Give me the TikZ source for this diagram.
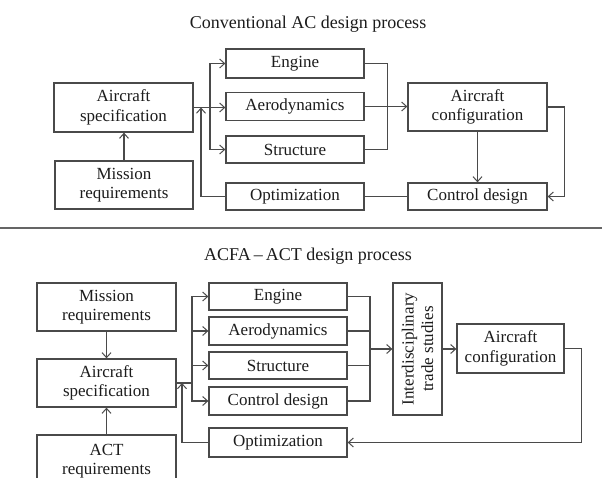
\documentclass[tikz,border=0pt]{standalone}
\usepackage{fontspec}
\setmainfont{Liberation Serif}
\usetikzlibrary{arrows.meta,calc}
\definecolor{lncol}{HTML}{4A4A4A}
\definecolor{txtcol}{HTML}{1C1C1C}
\tikzset{
  box/.style={draw=lncol, line width=1.3pt, inner sep=0pt, align=center,
    text=txtcol, font=\fontsize{17}{19.5}\selectfont},
  ln/.style={draw=lncol, line width=1.1pt},
  arr/.style={ln, -{Straight Barb[length=5pt,width=9pt,line width=1pt]}},
  ttl/.style={text=txtcol, font=\fontsize{18}{21}\selectfont, anchor=base, inner sep=0pt},
}
\begin{document}
\begin{tikzpicture}[x=1pt,y=-1pt]
\useasboundingbox (0,0) rectangle (602,477);
\clip (0,0) rectangle (602,477);
\fill[white] (0,0) rectangle (602,477);

% ---------- top ----------
\node[ttl] (t1) at (308,28) {Conventional AC design process};
\node[box, minimum width=139pt, minimum height=49pt] (spec1) at (123.5,107.5) {Aircraft\\specification};
\node[box, minimum width=138pt, minimum height=48pt] (mis1) at (124,185) {Mission\\requirements};
\node[box, minimum width=138pt, minimum height=29pt] (eng1) at (295,63.5) {Engine};
\node[box, minimum width=138pt, minimum height=28pt] (aero1) at (295,106.5) {Aerodynamics};
\node[box, minimum width=138pt, minimum height=27pt] (str1) at (295,149.5) {Structure};
\node[box, minimum width=138pt, minimum height=27pt] (opt1) at (295,196.5) {Optimization};
\node[box, minimum width=139pt, minimum height=48pt] (cfg1) at (477.5,107) {Aircraft\\configuration};
\node[box, minimum width=139pt, minimum height=27pt] (ctl1) at (477.5,196.5) {Control design};

\coordinate (br1) at (210,107.5);
\coordinate (fb1) at (201,107.5);
\draw[arr] (mis1.north) -- (mis1.north |- spec1.south);
\draw[ln] (spec1.east) -- (br1);
\draw[arr] (br1) -- (br1 -| aero1.west);
\draw[arr] (br1) |- (eng1.west);
\draw[arr] (br1) |- (str1.west);
\draw[arr] (opt1.west) -| (fb1);
\draw[ln] (eng1.east) -- ++(23,0) |- (str1.east);
\draw[arr] (aero1.east) -- (aero1.east -| cfg1.west);
\draw[arr] (cfg1.south) -- (cfg1.south |- ctl1.north);
\draw[arr] (cfg1.east) -- ++(17,0) |- (ctl1.east);
\draw[ln] (ctl1.west) -- (opt1.east);

% separator
\draw[draw=lncol!85, line width=2pt] (0,228) -- (602,228);

% ---------- bottom ----------
\node[ttl] (t2) at (308,260) {ACFA\,–\,ACT design process};
\node[box, minimum width=139pt, minimum height=48pt] (mis2) at (106.5,307) {Mission\\requirements};
\node[box, minimum width=139pt, minimum height=48pt] (spec2) at (106.5,383) {Aircraft\\specification};
\node[box, minimum width=139pt, minimum height=52pt] (act2) at (106.5,461) {ACT\\requirements};
\node[box, minimum width=138pt, minimum height=27pt] (eng2) at (278,296.5) {Engine};
\node[box, minimum width=138pt, minimum height=28pt] (aero2) at (278,331) {Aerodynamics};
\node[box, minimum width=138pt, minimum height=27pt] (str2) at (278,365.5) {Structure};
\node[box, minimum width=138pt, minimum height=28pt] (ctl2) at (278,401) {Control design};
\node[box, minimum width=138pt, minimum height=29pt] (opt2) at (278,442.5) {Optimization};
\node[box, minimum width=49pt, minimum height=132pt] (inter) at (417.5,349) {};
\node[text=txtcol, font=\fontsize{17}{19.5}\selectfont, align=center, rotate=90, inner sep=0pt] (intertxt) at (inter.center) {Interdisciplinary\\trade studies};
\node[box, minimum width=107pt, minimum height=49pt] (cfg2) at (510.5,348.5) {Aircraft\\configuration};

\coordinate (br2) at (192,383);
\coordinate (fb2) at (182,383);
\coordinate (m2) at (370,349);
\draw[arr] (mis2.south) -- (spec2.north);
\draw[arr] (act2.north) -- (spec2.south);
\draw[ln] (spec2.east) -- (br2);
\draw[arr] (br2) |- (eng2.west);
\draw[arr] (br2) |- (aero2.west);
\draw[arr] (br2) |- (str2.west);
\draw[arr] (br2) |- (ctl2.west);
\draw[arr] (opt2.west) -| (fb2);
\draw[ln] (eng2.east) -| (m2);
\draw[ln] (aero2.east) -| (m2);
\draw[ln] (str2.east) -| (m2);
\draw[ln] (ctl2.east) -| (m2);
\draw[arr, line width=1.6pt] (m2) -- (inter.west);
\draw[arr] (inter.east) -- (inter.east -| cfg2.west);
\draw[arr] (cfg2.east) -- ++(17,0) |- (opt2.east);
\end{tikzpicture}
\end{document}
